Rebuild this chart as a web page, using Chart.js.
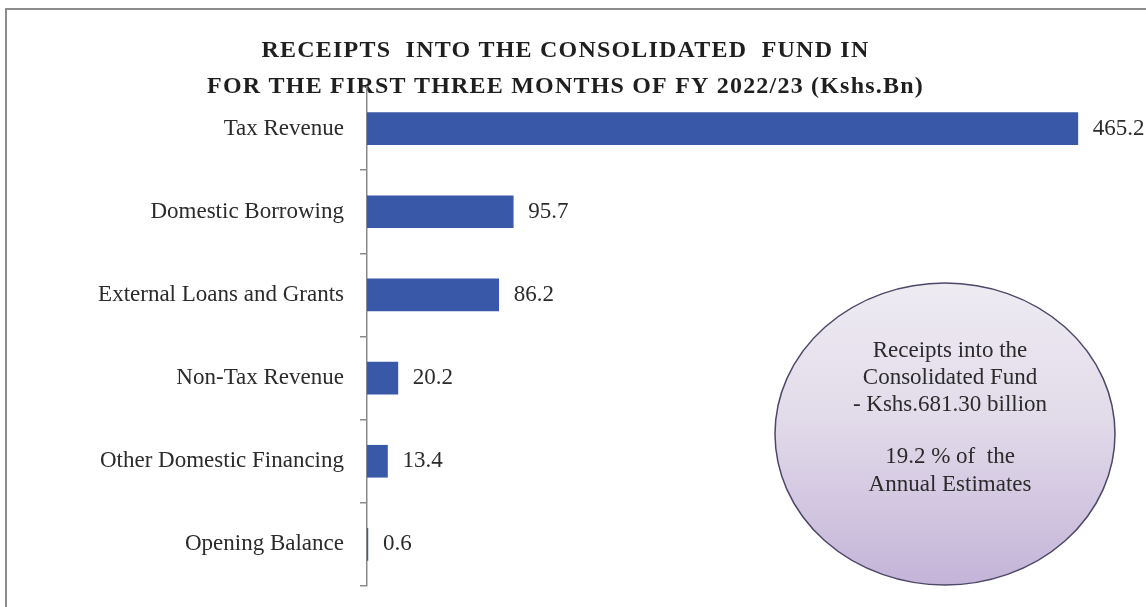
<!DOCTYPE html>
<html>
<head>
<meta charset="utf-8">
<script src="https://cdn.jsdelivr.net/npm/chart.js@4/dist/chart.umd.min.js"></script>
<style>
  html, body { margin: 0; padding: 0; background: #ffffff; overflow: hidden; }
  #frame { position: absolute; left: 5px; top: 8px; width: 1300px; height: 800px;
           border-left: 2px solid #8c8c8c; border-top: 2px solid #8c8c8c; z-index: 0; }
  #c { position: absolute; left: 0; top: 0; z-index: 1; }
</style>
</head>
<body>
<div id="frame"></div>
<canvas id="c" width="1146" height="607"></canvas>
<script>
const categories = ['Tax Revenue', 'Domestic Borrowing', 'External Loans and Grants',
                    'Non-Tax Revenue', 'Other Domestic Financing', 'Opening Balance'];
const values = [465.2, 95.7, 86.2, 20.2, 13.4, 0.6];
const valueLabels = ['465.2', '95.7', '86.2', '20.2', '13.4', '0.6'];
const titleLines = ['RECEIPTS  INTO THE CONSOLIDATED  FUND IN',
                    'FOR THE FIRST THREE MONTHS OF FY 2022/23 (Kshs.Bn)'];
const noteLines = ['Receipts into the', 'Consolidated Fund', '- Kshs.681.30 billion', '',
                   '19.2 % of  the', 'Annual Estimates'];
const axisMin = 0;
const axisMax = 500;

const SERIF = '"Liberation Serif", "Times New Roman", serif';
const TEXT = '#2b2b2b';

const titleSpacing = {
  id: 'titleSpacing',
  beforeDraw(chart) { chart.ctx.letterSpacing = '1.2px'; },
  beforeDatasetsDraw(chart) { chart.ctx.letterSpacing = '0px'; }
};

const valueLabelsPlugin = {
  id: 'valueLabels',
  afterDatasetsDraw(chart) {
    const ctx = chart.ctx;
    const meta = chart.getDatasetMeta(0);
    ctx.save();
    ctx.letterSpacing = '0px';
    ctx.font = '23px ' + SERIF;
    ctx.fillStyle = TEXT;
    ctx.textAlign = 'left';
    ctx.textBaseline = 'middle';
    meta.data.forEach((bar, i) => {
      ctx.fillText(valueLabels[i], bar.x + 15, bar.y);
    });
    ctx.restore();
  }
};

const notePlugin = {
  id: 'note',
  afterDraw(chart) {
    const ctx = chart.ctx;
    const cx = 945, cy = 434, rx = 170, ry = 151;
    ctx.save();
    ctx.letterSpacing = '0px';
    const g = ctx.createLinearGradient(0, cy - ry, 0, cy + ry);
    g.addColorStop(0, '#eeebf2');
    g.addColorStop(0.45, '#e2dbea');
    g.addColorStop(1, '#c4b4d8');
    ctx.beginPath();
    ctx.ellipse(cx, cy, rx, ry, 0, 0, Math.PI * 2);
    ctx.fillStyle = g;
    ctx.fill();
    ctx.lineWidth = 1.5;
    ctx.strokeStyle = '#4d4768';
    ctx.stroke();
    ctx.font = '23px ' + SERIF;
    ctx.fillStyle = TEXT;
    ctx.textAlign = 'center';
    ctx.textBaseline = 'middle';
    const ys = [351, 378, 405, 432, 457, 485];
    noteLines.forEach((t, i) => { if (t) ctx.fillText(t, 950, ys[i]); });
    ctx.restore();
  }
};

new Chart(document.getElementById('c'), {
  type: 'bar',
  data: {
    labels: categories,
    datasets: [{
      data: values,
      backgroundColor: '#3959a8',
      borderWidth: 0,
      barThickness: 32
    }]
  },
  options: {
    indexAxis: 'y',
    responsive: false,
    animation: false,
    devicePixelRatio: 1,
    layout: { padding: { left: 0, right: 15, top: 0, bottom: 21 } },
    plugins: {
      legend: { display: false },
      tooltip: { enabled: false },
      title: {
        display: true,
        text: titleLines,
        color: '#1f1f1f',
        font: { family: SERIF, size: 24, weight: 'bold', lineHeight: 36 / 24 },
        padding: { top: 33, bottom: -18 }
      }
    },
    scales: {
      x: { display: false, min: axisMin, max: axisMax },
      y: {
        afterFit(scale) { scale.width = 367; scale.paddingTop = 0; scale.paddingBottom = 0; },
        grid: { drawOnChartArea: false, drawTicks: true, tickLength: 7,
                color: '#8a8a8a', lineWidth: 1.5, offset: true },
        border: { display: true, color: '#8a8a8a', width: 1.5 },
        ticks: { padding: 16, color: TEXT, z: 1,
                 font: { family: SERIF, size: 23 } }
      }
    }
  },
  plugins: [titleSpacing, valueLabelsPlugin, notePlugin]
});
</script>
</body>
</html>
